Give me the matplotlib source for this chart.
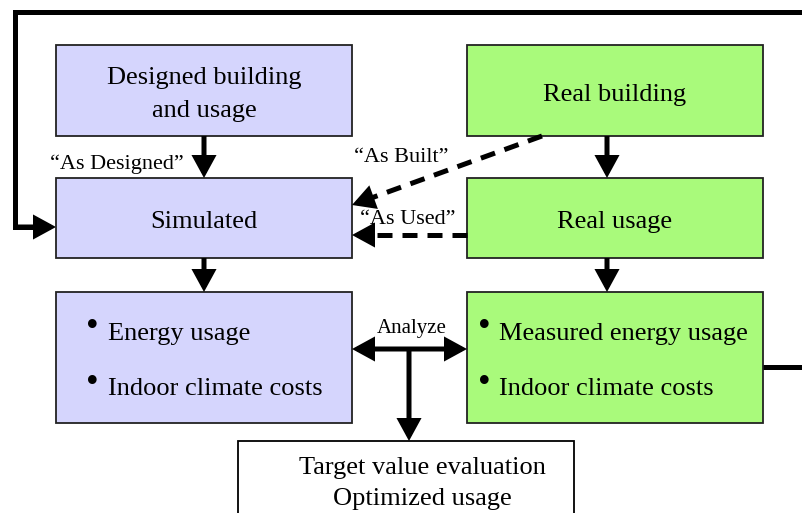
import matplotlib.pyplot as plt
from matplotlib.patches import Rectangle, FancyArrowPatch

plt.rcParams['font.family'] = ['Liberation Serif', 'DejaVu Serif']

# box labels
sim_titles = ["Designed building\nand usage", "Simulated"]
real_titles = ["Real building", "Real usage"]
sim_results = ["Energy usage", "Indoor climate costs"]
real_results = ["Measured energy usage", "Indoor climate costs"]
target_lines = ["Target value evaluation", "Optimized usage"]
link_labels = ["\u201cAs Designed\u201d", "\u201cAs Built\u201d", "\u201cAs Used\u201d", "Analyze"]

blue = '#d5d5fd'
green = '#a9fa7b'

fig = plt.figure(figsize=(8.03, 5.13), dpi=100)
ax = fig.add_axes([0, 0, 1, 1])
ax.set_xlim(0, 803)
ax.set_ylim(513, 0)
ax.axis('off')

# column x-ranges and row y-ranges in pixels
cols = [(56, 352), (467, 763)]
rows = [(45, 136), (178, 258), (292, 423)]
HEAD = 'head_length=0.55,head_width=0.3'
LINE_GAP = 33


def box(x0, x1, y0, y1, fc, lw=1.3):
    ax.add_patch(Rectangle((x0, y0), x1 - x0, y1 - y0, fc=fc, ec='#222222', lw=lw))


def arrow(p0, p1, style='-|>'):
    a = FancyArrowPatch(p0, p1, arrowstyle=style + ',' + HEAD,
                        mutation_scale=20, lw=3.6, color='black',
                        shrinkA=0, shrinkB=0, capstyle='butt', joinstyle='miter')
    ax.add_patch(a)


def dashed_arrow(p0, p1):
    # dashed shaft, solid head on the last bit
    dx, dy = p1[0] - p0[0], p1[1] - p0[1]
    d = (dx ** 2 + dy ** 2) ** 0.5
    f = 1 - 18 / d
    mid = (p0[0] + dx * f, p0[1] + dy * f)
    ax.plot([p0[0], mid[0]], [p0[1], mid[1]], color='black', lw=3.6,
            linestyle=(0, (3, 2)), dash_capstyle='butt')
    arrow(mid, p1)


# feedback loop lines
ax.plot([803, 15, 15, 40], [12, 12, 227, 227], color='black', lw=3.6,
        solid_joinstyle='miter', solid_capstyle='butt')
arrow((15, 227), (56, 227))
ax.plot([763, 803], [367, 367], color='black', lw=3.6, solid_capstyle='butt')

# boxes
for (x0, x1), fc, titles, results in [(cols[0], blue, sim_titles, sim_results),
                                        (cols[1], green, real_titles, real_results)]:
    for (y0, y1), t in zip(rows[:2], titles):
        box(x0, x1, y0, y1, fc)
        lines = t.split('\n')
        yc = (y0 + y1) / 2 + 4 - LINE_GAP * (len(lines) - 1) / 2
        for i, ln in enumerate(lines):
            ax.text((x0 + x1) / 2, yc + i * LINE_GAP, ln, ha='center', va='center',
                    fontsize=19)
    y0, y1 = rows[2]
    box(x0, x1, y0, y1, fc)

bullet_sets = [(92, 108, sim_results), (484, 499, real_results)]
for bx, txx, items in bullet_sets:
    for yy, item in zip([334, 389], items):
        ax.text(bx, yy - 6, '\u2022', ha='center', va='center', fontsize=26)
        ax.text(txx, yy, item, ha='left', va='center', fontsize=19)

# vertical arrows
for cx in [204, 607]:
    arrow((cx, rows[0][1]), (cx, rows[1][0]))
    arrow((cx, rows[1][1]), (cx, rows[2][0]))

# dashed links
dashed_arrow((542, 136), (352, 205))
dashed_arrow((467, 235), (352, 235))

# analyze
arrow((352, 349), (467, 349), style='<|-|>')
arrow((409, 349), (409, 441))

# target box
ax.add_patch(Rectangle((238, 441), 336, 100, fc='white', ec='black', lw=1.3))
ax.text(422, 468, target_lines[0], ha='center', va='center', fontsize=19)
ax.text(422, 499, target_lines[1], ha='center', va='center', fontsize=19)

# link labels
ax.text(117, 164, link_labels[0], ha='center', va='center', fontsize=16)
ax.text(401, 157, link_labels[1], ha='center', va='center', fontsize=16)
ax.text(408, 220, link_labels[2], ha='center', va='center', fontsize=16)
ax.text(412, 329, link_labels[3], ha='center', va='center', fontsize=15)

fig.savefig('out.png', dpi=100)
